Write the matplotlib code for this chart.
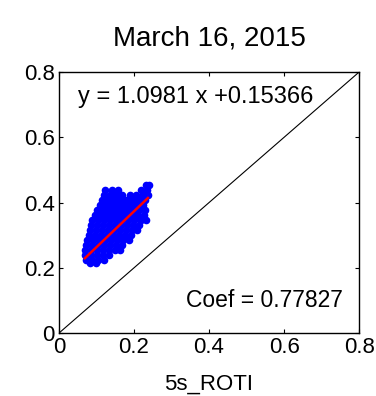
import numpy as np
import matplotlib
matplotlib.use('Agg')
import matplotlib.pyplot as plt

plt.rcParams['font.family'] = ['Liberation Sans', 'DejaVu Sans']

# scatter cloud (5s ROTI vs reference ROTI)
rows = [
    (0.454, [0.232, 0.240]),
    (0.439, [0.123, 0.141, 0.157, 0.219, 0.235]),
    (0.423, [0.120, 0.136, 0.152, 0.168, 0.189, 0.205, 0.224, 0.237]),
    (0.408, [0.115, 0.131, 0.147, 0.163, 0.179, 0.197, 0.213, 0.229]),
    (0.393, [0.109, 0.125, 0.141, 0.157, 0.173, 0.189, 0.208, 0.224]),
    (0.377, [0.101, 0.117, 0.133, 0.149, 0.165, 0.181, 0.197, 0.213, 0.229]),
    (0.362, [0.096, 0.112, 0.128, 0.144, 0.160, 0.176, 0.192, 0.208, 0.227]),
    (0.347, [0.088, 0.104, 0.120, 0.136, 0.152, 0.168, 0.184, 0.200, 0.219, 0.232]),
    (0.331, [0.085, 0.101, 0.117, 0.133, 0.149, 0.165, 0.181, 0.197, 0.213]),
    (0.316, [0.083, 0.099, 0.115, 0.131, 0.147, 0.163, 0.179, 0.195, 0.208]),
    (0.301, [0.080, 0.096, 0.112, 0.128, 0.144, 0.160, 0.176, 0.192]),
    (0.285, [0.075, 0.091, 0.107, 0.123, 0.139, 0.155, 0.171, 0.187]),
    (0.270, [0.072, 0.088, 0.104, 0.120, 0.136, 0.152, 0.168]),
    (0.255, [0.069, 0.085, 0.101, 0.117, 0.133, 0.149, 0.163]),
    (0.239, [0.069, 0.085, 0.101, 0.117, 0.133]),
    (0.224, [0.072, 0.088, 0.104, 0.120]),
    (0.215, [0.083, 0.099]),
]
roti_5s = np.array([x for y, xs in rows for x in xs])
roti_ref = np.array([y for y, xs in rows for x in xs])

slope = 1.0981
intercept = 0.15366
coef = 0.77827

ticks = [0, 0.2, 0.4, 0.6, 0.8]
tick_labels = ['0', '0.2', '0.4', '0.6', '0.8']

fig = plt.figure(figsize=(3.76, 3.96), dpi=100)
ax = fig.add_axes([0.157, 0.159, 0.798, 0.659])

ax.plot(roti_5s, roti_ref, 'o', color='#0000ff', markersize=5.5, markeredgewidth=0)
xf = np.array([0.069, 0.237])
ax.plot(xf, slope * xf + intercept, color='#ff0000', linewidth=1.8)
ax.plot([0, 0.8], [0, 0.8], color='black', linewidth=0.8)

ax.set_xlim(0, 0.8)
ax.set_ylim(0, 0.8)
ax.set_xticks(ticks)
ax.set_xticklabels(tick_labels)
ax.set_yticks(ticks)
ax.set_yticklabels(tick_labels)
ax.tick_params(direction='in', length=3, top=True, right=True, labelsize=16, pad=3)
for s in ax.spines.values():
    s.set_linewidth(1.0)

ax.text(0.051, 0.724, 'y = %.4f x +%.5f' % (slope, intercept), fontsize=17, va='center', ha='left')
ax.text(0.757, 0.101, 'Coef = %.5f' % coef, fontsize=16.5, va='center', ha='right')

ax.set_xlabel('5s_ROTI', fontsize=16)
ax.xaxis.set_label_coords(0.5, -0.155)
fig.text(0.556, 0.904, 'March 16, 2015', fontsize=20, ha='center', va='center')

fig.savefig('out.png', dpi=100)
